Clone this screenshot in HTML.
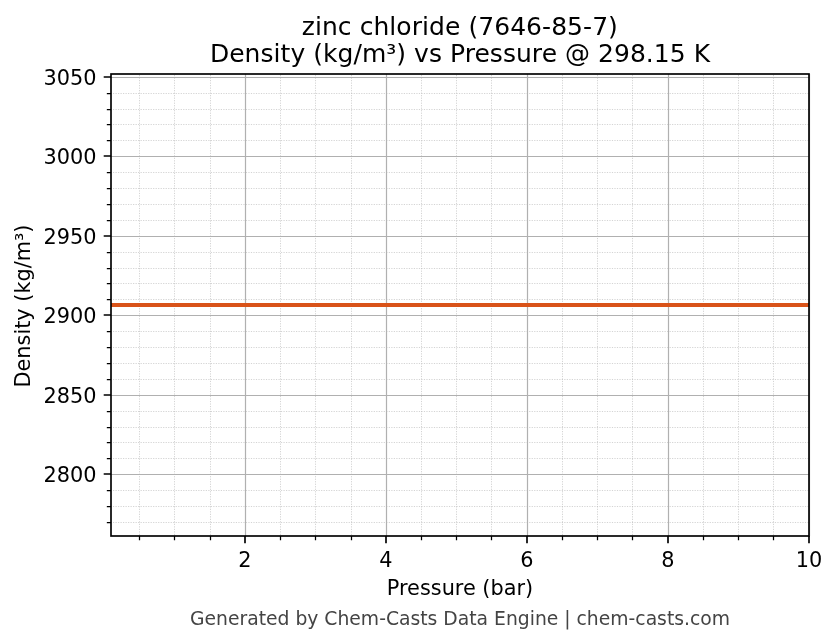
<!DOCTYPE html>
<html lang="en">
<head>
<meta charset="utf-8">
<title>zinc chloride (7646-85-7) - Density vs Pressure</title>
<style>
html,body{margin:0;padding:0;background:#ffffff;}
body{width:836px;height:644px;overflow:hidden;font-family:"DejaVu Sans", "Liberation Sans", sans-serif;}
svg text{white-space:pre;}
</style>
</head>
<body>
<svg width="836" height="644" viewBox="0 0 836 644" style="display:block;will-change:transform">
<rect x="0" y="0" width="836" height="644" fill="#ffffff"/>
<path d="M111.0 522.50 H809.0 M111.0 506.50 H809.0 M111.0 490.50 H809.0 M111.0 458.50 H809.0 M111.0 442.50 H809.0 M111.0 427.50 H809.0 M111.0 411.50 H809.0 M111.0 379.50 H809.0 M111.0 363.50 H809.0 M111.0 347.50 H809.0 M111.0 331.50 H809.0 M111.0 299.50 H809.0 M111.0 283.50 H809.0 M111.0 268.50 H809.0 M111.0 252.50 H809.0 M111.0 220.50 H809.0 M111.0 204.50 H809.0 M111.0 188.50 H809.0 M111.0 172.50 H809.0 M111.0 140.50 H809.0 M111.0 124.50 H809.0 M111.0 109.50 H809.0 M111.0 93.50 H809.0" fill="none" stroke="#b0b0b0" stroke-opacity="0.55" stroke-width="1" stroke-dasharray="1.2 1.307" stroke-dashoffset="0.507"/>
<path d="M139.50 536.0 V74.0 M174.50 536.0 V74.0 M210.50 536.0 V74.0 M280.50 536.0 V74.0 M315.50 536.0 V74.0 M351.50 536.0 V74.0 M421.50 536.0 V74.0 M456.50 536.0 V74.0 M491.50 536.0 V74.0 M562.50 536.0 V74.0 M597.50 536.0 V74.0 M632.50 536.0 V74.0 M703.50 536.0 V74.0 M738.50 536.0 V74.0 M773.50 536.0 V74.0" fill="none" stroke="#b0b0b0" stroke-opacity="0.55" stroke-width="1" stroke-dasharray="1.2 1.307" stroke-dashoffset="1.507"/>
<path d="M245.50 74.0 V536.0 M386.50 74.0 V536.0 M527.50 74.0 V536.0 M668.50 74.0 V536.0 M809.50 74.0 V536.0 M111.0 474.50 H809.0 M111.0 395.50 H809.0 M111.0 315.50 H809.0 M111.0 236.50 H809.0 M111.0 156.50 H809.0 M111.0 77.50 H809.0" fill="none" stroke="#b0b0b0" stroke-width="1.2"/>
<path d="M111.0 305 H809.0" fill="none" stroke="#d95319" stroke-width="4.1"/>
<path d="M245.00 536.0 v7.3 M386.00 536.0 v7.3 M527.00 536.0 v7.3 M668.00 536.0 v7.3 M809.00 536.0 v7.3 M111.0 474.00 h-7.3 M111.0 395.00 h-7.3 M111.0 315.00 h-7.3 M111.0 236.00 h-7.3 M111.0 156.00 h-7.3 M111.0 77.00 h-7.3" fill="none" stroke="#000" stroke-width="1.67"/>
<path d="M139.50 536.0 v4.17 M174.50 536.0 v4.17 M210.50 536.0 v4.17 M280.50 536.0 v4.17 M315.50 536.0 v4.17 M351.50 536.0 v4.17 M421.50 536.0 v4.17 M456.50 536.0 v4.17 M491.50 536.0 v4.17 M562.50 536.0 v4.17 M597.50 536.0 v4.17 M632.50 536.0 v4.17 M703.50 536.0 v4.17 M738.50 536.0 v4.17 M773.50 536.0 v4.17 M111.0 522.50 h-4.17 M111.0 506.50 h-4.17 M111.0 490.50 h-4.17 M111.0 458.50 h-4.17 M111.0 442.50 h-4.17 M111.0 427.50 h-4.17 M111.0 411.50 h-4.17 M111.0 379.50 h-4.17 M111.0 363.50 h-4.17 M111.0 347.50 h-4.17 M111.0 331.50 h-4.17 M111.0 299.50 h-4.17 M111.0 283.50 h-4.17 M111.0 268.50 h-4.17 M111.0 252.50 h-4.17 M111.0 220.50 h-4.17 M111.0 204.50 h-4.17 M111.0 188.50 h-4.17 M111.0 172.50 h-4.17 M111.0 140.50 h-4.17 M111.0 124.50 h-4.17 M111.0 109.50 h-4.17 M111.0 93.50 h-4.17" fill="none" stroke="#000" stroke-width="1.25"/>
<rect x="111.0" y="74.0" width="698.0" height="462.0" fill="none" stroke="#000" stroke-width="1.67" stroke-linejoin="miter"/>
<g font-family='"DejaVu Sans", "Liberation Sans", sans-serif' fill="#000" style="filter:grayscale(1)">
<g font-size="25px" text-anchor="middle"><text x="459.8" y="34.6" textLength="316.15" lengthAdjust="spacing">zinc chloride (7646-85-7)</text><text x="460" y="62.1" textLength="500.23" lengthAdjust="spacing">Density (kg/m³) vs Pressure @ 298.15 K</text></g>
<g font-size="20.83px" text-anchor="end">
<text x="96.4" y="481.70">2800</text>
<text x="96.4" y="402.70">2850</text>
<text x="96.4" y="322.70">2900</text>
<text x="96.4" y="243.70">2950</text>
<text x="96.4" y="163.70">3000</text>
<text x="96.4" y="84.70">3050</text>
</g>
<g font-size="20.83px" text-anchor="middle">
<text x="245.00" y="566.8">2</text>
<text x="386.00" y="566.8">4</text>
<text x="527.00" y="566.8">6</text>
<text x="668.00" y="566.8">8</text>
<text x="809.00" y="566.8">10</text>
<text x="460" y="595.2">Pressure (bar)</text>
<text transform="translate(30 306) rotate(-90)">Density (kg/m³)</text>
</g>
<text x="460" y="624.5" font-size="18.75px" text-anchor="middle" fill="#444444">Generated by Chem-Casts Data Engine | chem-casts.com</text>
</g>
</svg>
</body>
</html>
